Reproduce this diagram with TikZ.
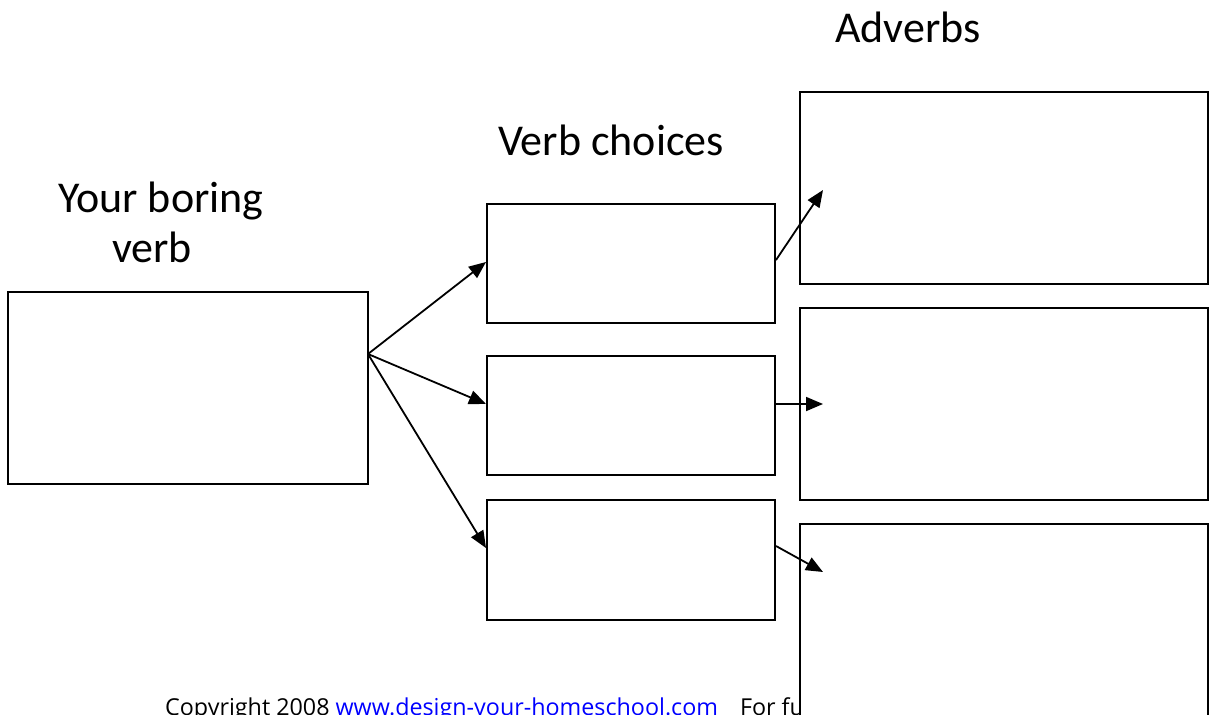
\documentclass[tikz,border=0pt]{standalone}
\usepackage{fontspec}
\setmainfont{Carlito}
\newfontfamily\copyfont{Open Sans}
\usetikzlibrary{arrows.meta,calc}
\begin{document}
\begin{tikzpicture}[x=1pt,y=-1pt,
  box/.style={draw=black,fill=white,line width=2pt,inner sep=0pt},
  conn/.style={line width=1.8pt,-{Triangle[length=17pt,width=14pt]}},
  title/.style={inner sep=0pt,font=\fontsize{44}{50}\selectfont}]
\useasboundingbox (0,0) rectangle (1211,715);
\clip (0,0) rectangle (1211,715);
\fill[white] (0,0) rectangle (1211,715);
% titles
\node[title,anchor=base west] (t1) at (58,212) {Your boring};
\node[title,anchor=base west] (t2) at (112,262) {verb};
\node[title,anchor=base west] (t3) at (498,155) {Verb choices};
\node[title,anchor=base west] (t4) at (835,42) {Adverbs};
% copyright
\node[inner sep=0pt,anchor=base west,font=\copyfont\fontsize{23.3}{26}\selectfont] (cp) at (165,715)
  {Copyright 2008 \textcolor{blue}{www.design-your-homeschool.com}\hspace{22pt}For further};
% boxes
\node[box,minimum width=360pt,minimum height=192pt] (a) at (188,388) {};
\node[box,minimum width=288pt,minimum height=119pt] (v1) at (631,263.5) {};
\node[box,minimum width=288pt,minimum height=119pt] (v2) at (631,415.5) {};
\node[box,minimum width=288pt,minimum height=120pt] (v3) at (631,560) {};
\node[box,minimum width=408pt,minimum height=192pt] (d1) at (1004,188) {};
\node[box,minimum width=408pt,minimum height=192pt] (d2) at (1004,404) {};
\node[box,minimum width=408pt,minimum height=192pt] (d3) at (1004,620) {};
% connector points
\coordinate (s) at (368,354);
\coordinate (e1) at (823,190);
\coordinate (e2) at (823,404);
\coordinate (e3) at (823,572);
\draw[conn] (s) -- ($(v1.west)+(0,-1.5)$);
\draw[conn] (s) -- ($(v2.west)+(0,-11.5)$);
\draw[conn] (s) -- ($(v3.west)+(0,-12)$);
\draw[conn] ($(v1.east)+(0,-3.5)$) -- (e1);
\draw[conn] ($(v2.east)+(0,-11.5)$) -- (e2);
\draw[conn] ($(v3.east)+(0,-14)$) -- (e3);
\end{tikzpicture}
\end{document}
